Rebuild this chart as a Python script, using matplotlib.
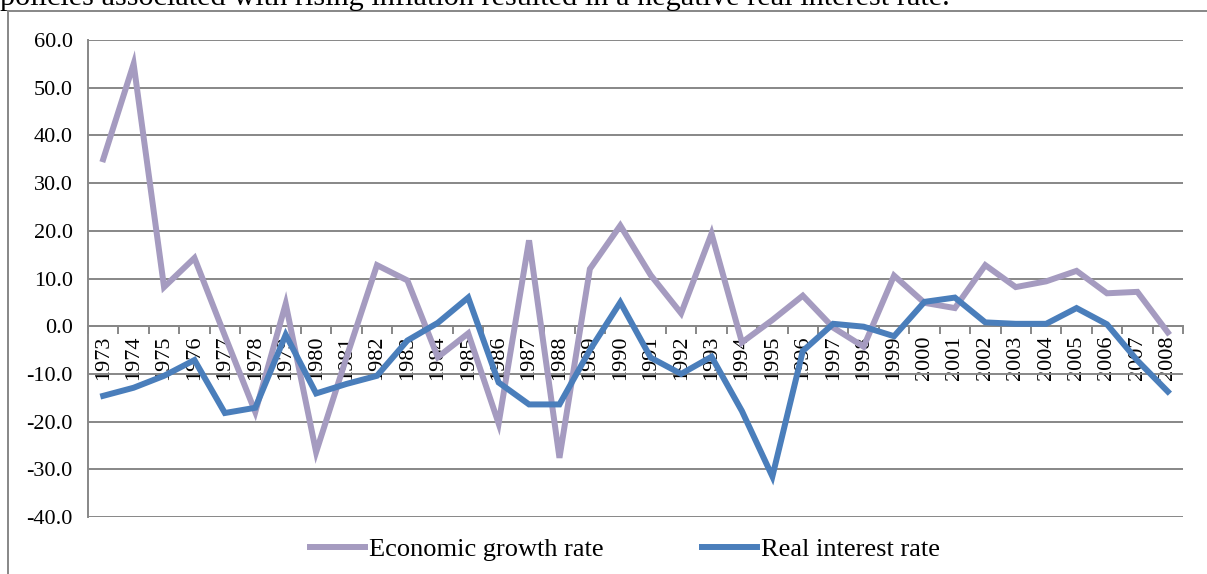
import matplotlib
matplotlib.use("Agg")
import matplotlib.pyplot as plt
from matplotlib.lines import Line2D

years = [str(y) for y in range(1973, 2009)]
growth = [35.0, 55.0, 8.2, 14.3, -2.0, -18.0, 4.7, -26.4, -6.5, 12.8,
          9.6, -6.5, -1.5, -20.4, 18.0, -27.6, 12.0, 21.1, 10.7, 2.7,
          19.4, -3.4, 1.3, 6.4, -0.3, -4.3, 10.6, 4.9, 3.8, 12.8,
          8.2, 9.4, 11.6, 6.9, 7.2, -1.3]
real_rate = [-14.6, -12.9, -10.4, -7.1, -18.2, -17.1, -1.8, -14.1, -12.1, -10.4,
             -3.0, 0.7, 6.0, -11.8, -16.4, -16.4, -5.0, 5.0, -6.6, -10.0,
             -6.4, -17.8, -31.5, -5.2, 0.5, -0.1, -2.1, 5.1, 6.0, 0.8,
             0.5, 0.5, 3.8, 0.4, -7.2, -13.7]
yticks = [-40, -30, -20, -10, 0, 10, 20, 30, 40, 50, 60]
legend_labels = ["Economic growth rate", "Real interest rate"]
caption = "policies associated with rising inflation resulted in a negative real interest rate."

W, H = 1207, 574
fig = plt.figure(figsize=(W / 100, H / 100), dpi=100)
plt.rcParams['font.family'] = ['Liberation Serif', 'DejaVu Serif']

left, right, top, bottom = 88, 1183, 40, 517
ax = fig.add_axes([left / W, 1 - bottom / H, (right - left) / W, (bottom - top) / H])

grid_col = '#878787'
x = list(range(len(years)))
ax.plot(x, growth, color='#A59BC0', lw=4.3, solid_joinstyle='miter', label=legend_labels[0], zorder=3)
ax.plot(x, real_rate, color='#4A7EBB', lw=4.3, solid_joinstyle='miter', label=legend_labels[1], zorder=4)

ax.set_xlim(-0.5, len(years) - 0.5)
ax.set_ylim(-40, 60)
ax.set_yticks(yticks)
ax.set_yticklabels([f"{v:.1f}" for v in yticks], fontsize=16)
ax.yaxis.grid(True, color=grid_col, lw=1.4)
ax.set_axisbelow(True)
ax.tick_params(axis='y', length=0, pad=11)

for s in ['top', 'right']:
    ax.spines[s].set_visible(False)
ax.spines['left'].set_color(grid_col)
ax.spines['left'].set_linewidth(1.4)
ax.spines['bottom'].set_position(('data', 0))
ax.spines['bottom'].set_color(grid_col)
ax.spines['bottom'].set_linewidth(1.4)

ax.set_xticks(x)
ax.set_xticklabels(years, rotation=90, fontsize=16, va='top')
ax.set_xticks([i - 0.5 for i in range(len(years) + 1)], minor=True)
ax.tick_params(axis='x', which='major', length=0, pad=7)
ax.tick_params(axis='x', which='minor', length=6, width=1.4, color=grid_col, direction='out')

fig.legend(loc='center', bbox_to_anchor=(625 / W, 1 - 549 / H), ncol=2, frameon=False,
           fontsize=19, handlelength=2.1, handletextpad=0.15, columnspacing=3.7)

fig.text(0.0, 1 - 5 / H, caption, fontsize=21.8, ha='left', va='baseline')

fig.add_artist(Line2D([8 / W, 8 / W], [0, 1 - 11 / H], transform=fig.transFigure, color=grid_col, lw=1.4))
fig.add_artist(Line2D([8 / W, 1], [1 - 11 / H, 1 - 11 / H], transform=fig.transFigure, color=grid_col, lw=1.4))

fig.savefig("out.png", dpi=100)
